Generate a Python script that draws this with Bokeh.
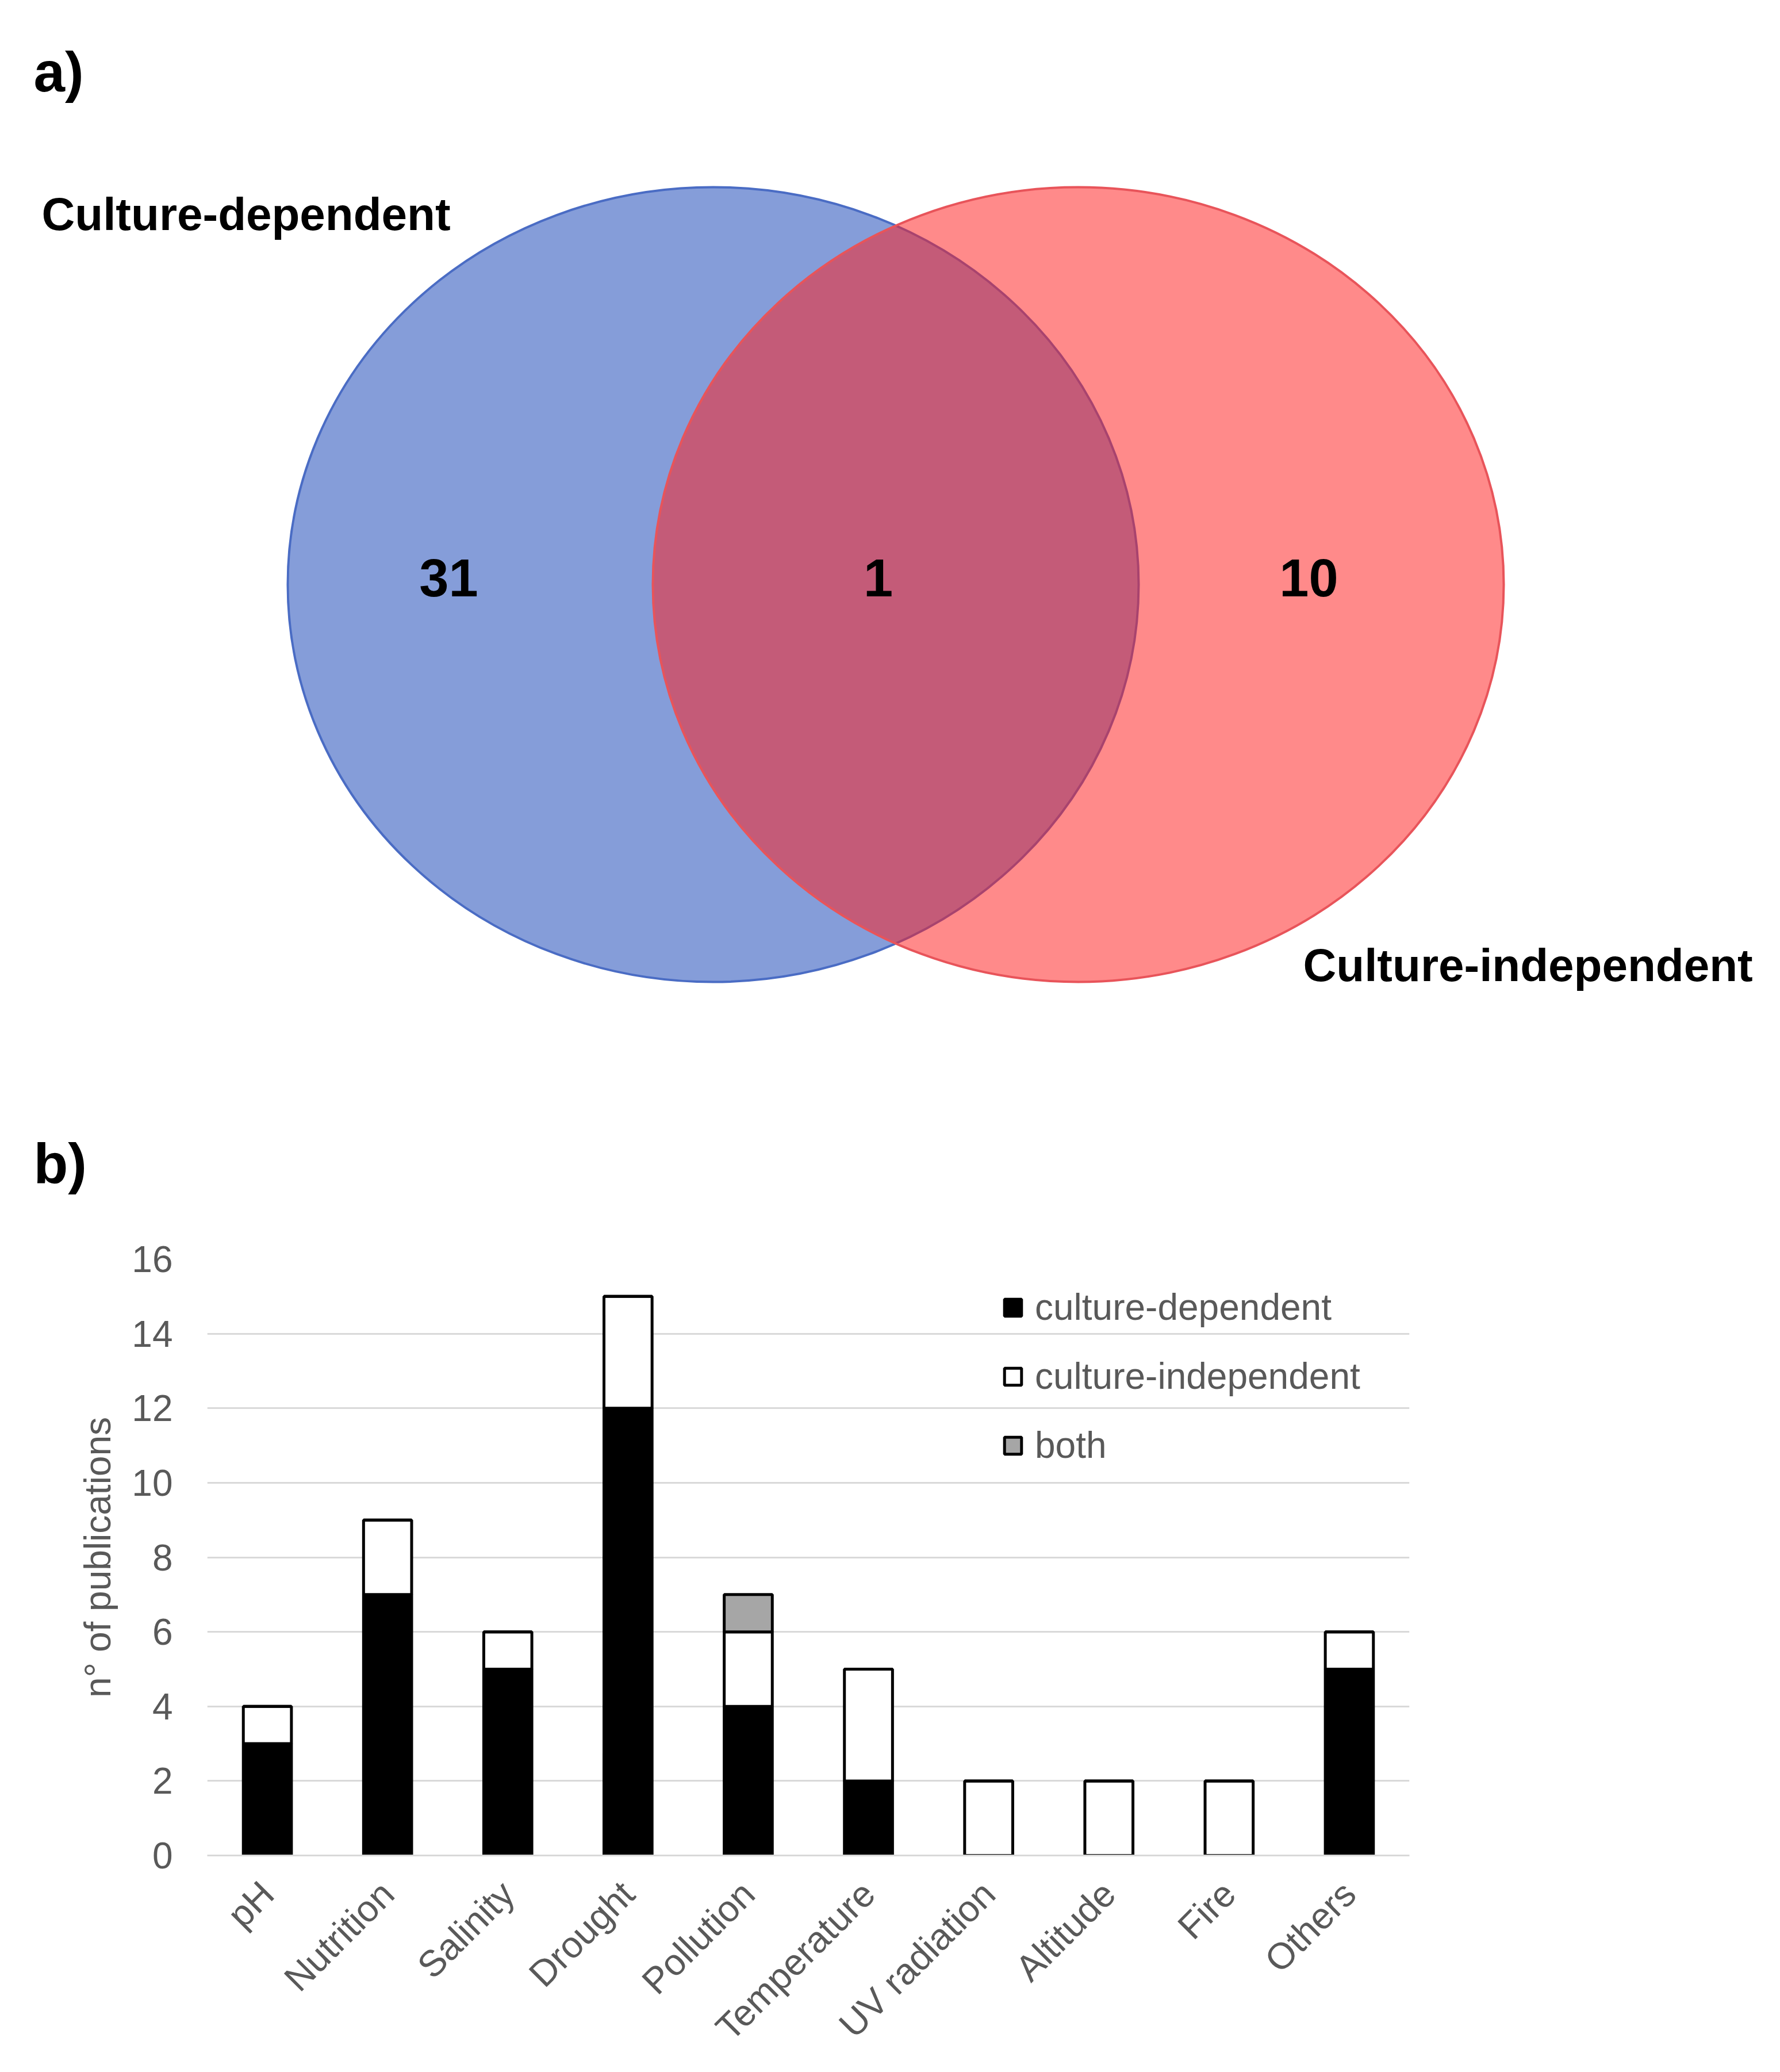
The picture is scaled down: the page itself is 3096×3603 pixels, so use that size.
import math
from bokeh.plotting import figure
from bokeh.models import ColumnDataSource, Range1d, FactorRange, FixedTicker
from bokeh.core.properties import value
from bokeh.embed import file_html
from bokeh.resources import INLINE

# ---------------- data ----------------
venn_set_labels = ["Culture-dependent", "Culture-independent"]
venn_counts = [31, 1, 10]          # only dependent, both, only independent
panel_labels = ["a)", "b)"]

categories = ["pH", "Nutrition", "Salinity", "Drought", "Pollution",
              "Temperature", "UV radiation", "Altitude", "Fire", "Others"]
culture_dependent = [3, 7, 5, 12, 4, 2, 0, 0, 0, 5]
culture_independent = [1, 2, 1, 3, 2, 3, 2, 2, 2, 1]
both = [0, 0, 0, 0, 1, 0, 0, 0, 0, 0]
series_names = ["culture-dependent", "culture-independent", "both"]
y_ticks = [0, 2, 4, 6, 8, 10, 12, 14, 16]
y_title = "n° of publications"

FONT = "Liberation Sans"
GRAY = "#595959"

# ---------------- Venn figure ----------------
W = 3080
H1 = 2090
p1 = figure(width=W, height=H1, x_range=Range1d(0, W), y_range=Range1d(0, H1),
            output_backend="svg", toolbar_location=None,
            x_axis_type=None, y_axis_type=None, min_border=0)
p1.grid.visible = False
p1.outline_line_color = None
p1.background_fill_color = "white"

cy = H1 - 1016
ew, eh = 1480, 1382
p1.ellipse(x=[1240], y=[cy], width=[ew], height=[eh],
           fill_color="#4468C4", fill_alpha=0.65, line_color="#4A6CC4", line_width=4)
p1.ellipse(x=[1875], y=[cy], width=[ew], height=[eh],
           fill_color="#FF1E1E", fill_alpha=0.52, line_color="#E8545A", line_width=4)

num_src = ColumnDataSource(dict(x=[780, 1527, 2276], y=[cy + 12] * 3,
                                t=[str(v) for v in venn_counts]))
p1.text(x="x", y="y", text="t", source=num_src, text_font=value(FONT),
        text_font_style="bold", text_font_size=value("92px"), text_color="black",
        text_align="center", text_baseline="middle")

lab_src = ColumnDataSource(dict(x=[72, 2266], y=[H1 - 372, H1 - 1678], t=venn_set_labels))
p1.text(x="x", y="y", text="t", source=lab_src, text_font=value(FONT),
        text_font_style="bold", text_font_size=value("80px"), text_color="black",
        text_align="left", text_baseline="middle")

pan_src = ColumnDataSource(dict(x=[58, 58], y=[H1 - 124, H1 - 2022], t=panel_labels))
p1.text(x="x", y="y", text="t", source=pan_src, text_font=value(FONT),
        text_font_style="bold", text_font_size=value("98px"), text_color="black",
        text_align="left", text_baseline="middle")

# ---------------- Bar figure ----------------
H2 = 1500
p2 = figure(width=W, height=H2, x_range=FactorRange(*categories), y_range=Range1d(0, 16),
            output_backend="svg", toolbar_location=None,
            min_border_left=360, min_border_right=629, min_border_top=99,
            min_border_bottom=360)
p2.outline_line_color = None
p2.xgrid.visible = False
p2.ygrid.grid_line_color = "#D9D9D9"
p2.ygrid.grid_line_width = 3

src = ColumnDataSource(dict(cat=categories, dep=culture_dependent,
                            ind=culture_independent, both=both))
p2.vbar_stack(["dep", "ind", "both"], x="cat", width=0.4, source=src,
              fill_color=["black", "white", "#A6A6A6"], line_color="black",
              line_width=5, legend_label=series_names)

yax = p2.yaxis[0]
yax.ticker = FixedTicker(ticks=y_ticks)
yax.axis_line_color = None
yax.major_tick_line_color = None
yax.minor_tick_line_color = None
yax.major_label_text_font = FONT
yax.major_label_text_font_size = "64px"
yax.major_label_text_color = GRAY
yax.major_label_standoff = 54
yax.axis_label = y_title
yax.axis_label_text_font = FONT
yax.axis_label_text_font_size = "64px"
yax.axis_label_text_font_style = "normal"
yax.axis_label_text_color = GRAY
yax.axis_label_standoff = 20

xax = p2.xaxis[0]
xax.axis_line_color = "#D9D9D9"
xax.axis_line_width = 3
xax.major_tick_line_color = None
xax.minor_tick_line_color = None
xax.major_label_orientation = math.pi / 4
xax.major_label_text_font = FONT
xax.major_label_text_font_size = "64px"
xax.major_label_text_color = GRAY
xax.major_label_standoff = 50

lg = p2.legend[0]
lg.location = (1383, 676)
lg.padding = 0
lg.margin = 0
lg.border_line_color = None
lg.background_fill_alpha = 0
lg.glyph_width = 37
lg.glyph_height = 37
lg.label_height = 74
lg.spacing = 46
lg.label_standoff = 20
lg.label_text_font = FONT
lg.label_text_font_size = "64px"
lg.label_text_color = GRAY

open("out.html", "w").write(file_html([p1, p2], INLINE))
